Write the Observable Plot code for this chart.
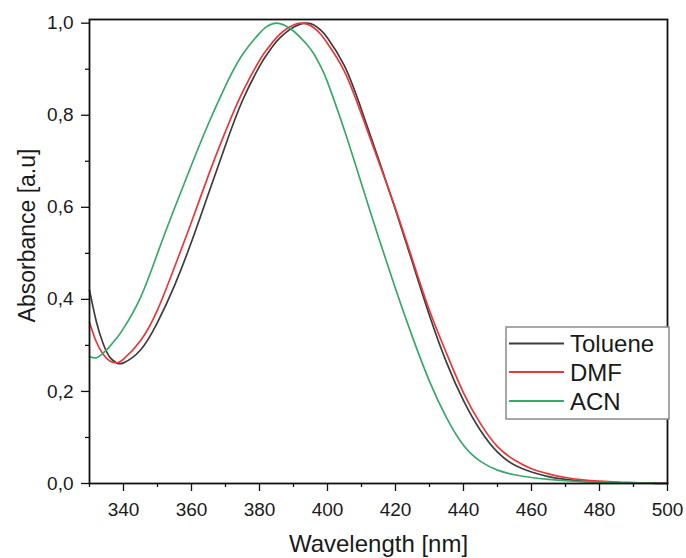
<!DOCTYPE html>
<html>
<head>
<meta charset="utf-8">
<script src="https://cdn.jsdelivr.net/npm/d3@7"></script>
<script src="https://cdn.jsdelivr.net/npm/@observablehq/plot@0.6"></script>
<style>
  html, body { margin: 0; padding: 0; background: #fff; }
  #chart { position: relative; width: 686px; height: 558px; font-family: "Liberation Sans", Arial, sans-serif; }
</style>
</head>
<body>
<div id="chart"></div>
<script>
// ---- data ----
const wavelengths = [330,332,334,336,338,340,345,350,355,360,365,370,375,380,382,384,386,388,390,392,394,396,398,400,405,410,415,420,425,430,435,440,445,450,455,460,465,470,475,480,485,490,495,500];

const toluene = [0.420,0.352,0.304,0.274,0.262,0.262,0.290,0.350,0.430,0.525,0.630,0.735,0.832,0.906,0.930,0.951,0.968,0.981,0.991,0.998,1.000,0.996,0.985,0.968,0.907,0.812,0.705,0.595,0.480,0.365,0.263,0.180,0.115,0.068,0.040,0.025,0.015,0.009,0.005,0.003,0.002,0.001,0.001,0.000];

const dmf = [0.350,0.308,0.281,0.266,0.262,0.270,0.310,0.377,0.470,0.568,0.670,0.765,0.850,0.919,0.941,0.960,0.976,0.988,0.996,1.000,0.998,0.990,0.976,0.956,0.895,0.802,0.700,0.597,0.486,0.376,0.283,0.197,0.130,0.080,0.051,0.032,0.021,0.013,0.008,0.005,0.003,0.002,0.001,0.001];

const acn = [0.276,0.273,0.283,0.298,0.316,0.337,0.404,0.500,0.598,0.692,0.782,0.864,0.932,0.978,0.992,0.999,0.999,0.993,0.983,0.969,0.953,0.933,0.906,0.872,0.767,0.651,0.535,0.423,0.318,0.222,0.143,0.083,0.048,0.029,0.019,0.013,0.009,0.006,0.004,0.003,0.002,0.001,0.001,0.000];

const seriesNames = ["Toluene", "DMF", "ACN"];
const seriesColors = ["#3d3d3d", "#e8383b", "#38a96a"];

const xMajorTicks = [340,360,380,400,420,440,460,480,500];
const xMinorTicks = [330,350,370,390,410,430,450,470,490];
const yMajorTicks = [0,0.2,0.4,0.6,0.8,1.0];
const yMinorTicks = [0.1,0.3,0.5,0.7,0.9];

const xTitle = "Wavelength [nm]";
const yTitle = "Absorbance [a.u]";

// ---- build table ----
const seriesValues = [toluene, dmf, acn];
const data = [];
seriesNames.forEach((name, s) => {
  wavelengths.forEach((w, i) => data.push({wavelength: w, absorbance: seriesValues[s][i], solvent: name}));
});

const font = "Liberation Sans, Arial, sans-serif";
const fmt = d => d.toFixed(1).replace(".", ",");

const plot = Plot.plot({
  width: 686,
  height: 558,
  marginLeft: 89,
  marginRight: 19,
  marginTop: 19,
  marginBottom: 75,
  style: {fontFamily: font, fontSize: "19px", color: "#1a1a1a", background: "#fff", overflow: "visible"},
  x: {domain: [330, 500]},
  y: {domain: [0, 1.008]},
  color: {domain: seriesNames, range: seriesColors},
  marks: [
    Plot.line(data, {x: "wavelength", y: "absorbance", stroke: "solvent", z: "solvent", strokeWidth: 1.7, curve: "natural"}),
    Plot.axisX({ticks: xMajorTicks, tickSize: 8, tickPadding: 11, tickFormat: d => String(d), fontSize: 19, label: null, stroke: "#111", strokeWidth: 1.3}),
    Plot.axisX({ticks: xMinorTicks, tickSize: 4, tickFormat: () => "", label: null, stroke: "#111", strokeWidth: 1.3}),
    Plot.axisY({ticks: yMajorTicks, tickSize: 8, tickPadding: 8, tickFormat: fmt, fontSize: 19, label: null, stroke: "#111", strokeWidth: 1.3}),
    Plot.axisY({ticks: yMinorTicks, tickSize: 4, tickFormat: () => "", label: null, stroke: "#111", strokeWidth: 1.3}),
    Plot.frame({stroke: "#111", strokeWidth: 1.8}),
    Plot.text([xTitle], {frameAnchor: "bottom", dy: 68, lineAnchor: "bottom", textAnchor: "middle", fontSize: 24, fill: "#1a1a1a"}),
    Plot.text([yTitle], {frameAnchor: "left", rotate: -90, dx: -55, dy: -16, lineAnchor: "bottom", textAnchor: "middle", fontSize: 23, fill: "#1a1a1a"})
  ]
});

document.getElementById("chart").appendChild(plot);

// ---- legend (layout overlay) ----
const svg = d3.select(plot);
const lg = svg.append("g").attr("class", "legend").attr("text-anchor", "start");
const box = {x: 506, y: 327, w: 163, h: 92};
lg.append("rect").attr("x", box.x).attr("y", box.y).attr("width", box.w).attr("height", box.h)
  .attr("fill", "#fff").attr("stroke", "#8a8a8a").attr("stroke-width", 1.5);
const rowY = [343.5, 372, 401];
seriesNames.forEach((name, i) => {
  lg.append("line").attr("x1", 509).attr("x2", 564).attr("y1", rowY[i]).attr("y2", rowY[i])
    .attr("stroke", seriesColors[i]).attr("stroke-width", 2);
  lg.append("text").attr("x", 570).attr("y", rowY[i] + 8.6).attr("text-anchor", "start").text(name)
    .attr("font-family", font).attr("font-size", 24).attr("fill", "#1a1a1a");
});
</script>
</body>
</html>
